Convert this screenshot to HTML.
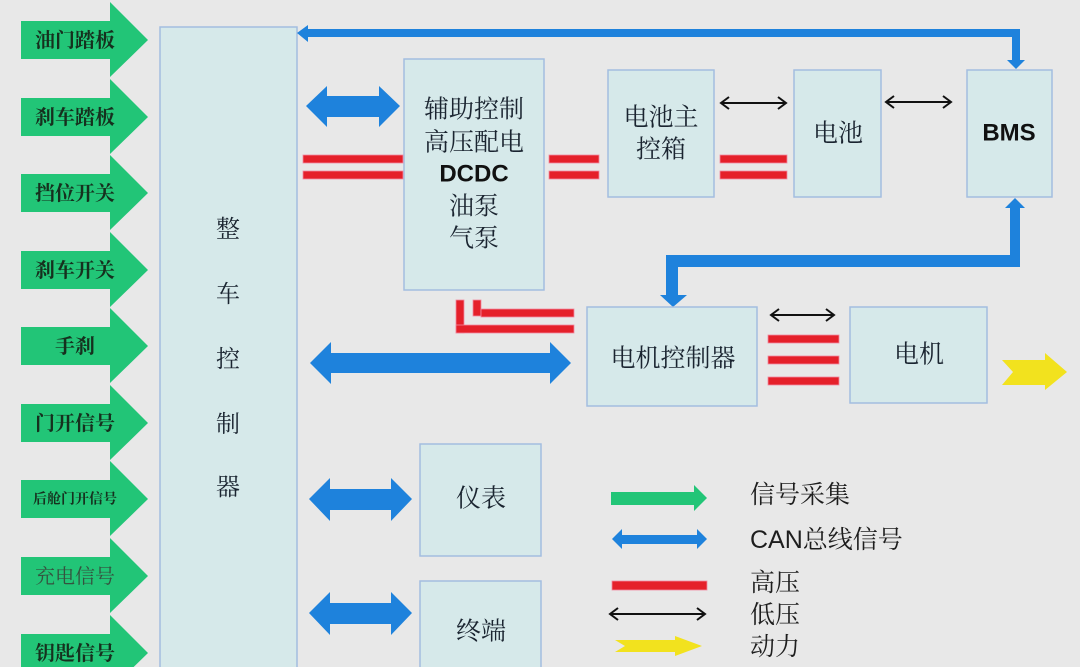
<!DOCTYPE html>
<html><head><meta charset="utf-8"><style>
html,body{margin:0;padding:0;background:#e8e8e8;}
svg{display:block;}
.bx{fill:#d6e9ea;stroke:#a3bde0;stroke-width:1.5;}
.s{font-family:"Liberation Serif","Noto Serif CJK SC",serif;fill:#1a2430;}
.g{font-family:"Liberation Serif","Noto Serif CJK SC",serif;font-weight:bold;fill:#16301e;}
.lg{font-family:"Liberation Sans","Noto Serif CJK SC",serif;fill:#1e1e1e;}
.bl{fill:#1e82dc;}
.rd{fill:#e5202a;stroke:#f08aa0;stroke-width:0.8;}
.gr{fill:#22c577;}
.ln{stroke:#111;stroke-width:2;fill:none;}
</style></head><body>
<svg width="1080" height="667" viewBox="0 0 1080 667" xmlns="http://www.w3.org/2000/svg">
<rect width="1080" height="667" fill="#e8e8e8"/>

<!-- green input arrows -->
<g class="gr">
<polygon points="21,21 110,21 110,2 148,40 110,77 110,59 21,59"/>
<polygon points="21,98 110,98 110,79 148,117 110,154 110,136 21,136"/>
<polygon points="21,174 110,174 110,155 148,193 110,230 110,212 21,212"/>
<polygon points="21,251 110,251 110,232 148,270 110,307 110,289 21,289"/>
<polygon points="21,327 110,327 110,308 148,346 110,383 110,365 21,365"/>
<polygon points="21,404 110,404 110,385 148,423 110,460 110,442 21,442"/>
<polygon points="21,480 110,480 110,461 148,499 110,536 110,518 21,518"/>
<polygon points="21,557 110,557 110,538 148,576 110,613 110,595 21,595"/>
<polygon points="21,634 110,634 110,615 148,653 110,690 110,672 21,672"/>
</g>
<g class="g" text-anchor="middle" dominant-baseline="central" font-size="20">
<text x="75" y="41">油门踏板</text>
<text x="75" y="118">刹车踏板</text>
<text x="75" y="194">挡位开关</text>
<text x="75" y="271">刹车开关</text>
<text x="75" y="347">手刹</text>
<text x="75" y="424">门开信号</text>
<text x="75" y="500" font-size="14">后舱门开信号</text>
<text x="75" y="577" font-weight="normal" fill="#35523f">充电信号</text>
<text x="75" y="654">钥匙信号</text>
</g>

<!-- main VCU box -->
<rect class="bx" x="160" y="27" width="137" height="660"/>
<g class="s" text-anchor="middle" dominant-baseline="central" font-size="24">
<text x="228" y="230">整</text>
<text x="228" y="295">车</text>
<text x="228" y="360">控</text>
<text x="228" y="425">制</text>
<text x="228" y="488">器</text>
</g>

<!-- top CAN line to BMS -->
<g class="bl">
<rect x="305" y="29" width="715" height="8"/>
<polygon points="297,33 308,25 308,42"/>
<rect x="1012" y="29" width="8" height="32"/>
<polygon points="1007,60 1025,60 1016,69"/>
</g>

<!-- BMS to motor controller path -->
<g class="bl">
<polygon points="1015,198 1005,208 1025,208"/>
<rect x="1010" y="207" width="10" height="60"/>
<rect x="666" y="255" width="354" height="12"/>
<rect x="666" y="255" width="12" height="41"/>
<polygon points="660,295 687,295 673,307"/>
</g>

<!-- CAN double arrows -->
<g class="bl">
<polygon points="306,106 327,86 327,96 379,96 379,86 400,106 379,127 379,117 327,117 327,127"/>
<polygon points="310,363 331,342 331,353 550,353 550,342 571,363 550,384 550,373 331,373 331,384"/>
<polygon points="309,499 330,478 330,489 391,489 391,478 412,499 391,521 391,510 330,510 330,521"/>
<polygon points="309,613 330,592 330,603 391,603 391,592 412,613 391,635 391,624 330,624 330,635"/>
</g>

<!-- boxes -->
<rect class="bx" x="404" y="59" width="140" height="231"/>
<rect class="bx" x="608" y="70" width="106" height="127"/>
<rect class="bx" x="794" y="70" width="87" height="127"/>
<rect class="bx" x="967" y="70" width="85" height="127"/>
<rect class="bx" x="587" y="307" width="170" height="99"/>
<rect class="bx" x="850" y="307" width="137" height="96"/>
<rect class="bx" x="420" y="444" width="121" height="112"/>
<rect class="bx" x="420" y="581" width="121" height="100"/>

<g class="s" text-anchor="middle" dominant-baseline="central" font-size="25">
<text x="474" y="110">辅助控制</text>
<text x="474" y="143">高压配电</text>
<text x="474" y="174" font-family="Liberation Sans, sans-serif" font-weight="bold" font-size="24" fill="#111">DCDC</text>
<text x="474" y="207">油泵</text>
<text x="474" y="239">气泵</text>
<text x="661" y="118">电池主</text>
<text x="661" y="150">控箱</text>
<text x="838" y="134">电池</text>
<text x="1009" y="133" font-family="Liberation Sans, sans-serif" font-weight="bold" font-size="24" fill="#111">BMS</text>
<text x="673" y="359">电机控制器</text>
<text x="919" y="355">电机</text>
<text x="481" y="499">仪表</text>
<text x="481" y="632">终端</text>
</g>

<!-- high voltage bars -->
<g class="rd">
<rect x="303" y="155" width="100" height="8"/>
<rect x="303" y="171" width="100" height="8"/>
<rect x="549" y="155" width="50" height="8"/>
<rect x="549" y="171" width="50" height="8"/>
<rect x="720" y="155" width="67" height="8"/>
<rect x="720" y="171" width="67" height="8"/>
<rect x="456" y="300" width="8" height="33"/>
<rect x="456" y="325" width="118" height="8"/>
<rect x="473" y="300" width="8" height="16"/>
<rect x="481" y="309" width="93" height="8"/>
<rect x="768" y="335" width="71" height="8"/>
<rect x="768" y="356" width="71" height="8"/>
<rect x="768" y="377" width="71" height="8"/>
</g>

<!-- low voltage arrows -->
<g class="ln">
<line x1="721" y1="103" x2="786" y2="103"/>
<polyline points="729,97 721,103 729,109"/>
<polyline points="778,97 786,103 778,109"/>
<line x1="886" y1="102" x2="951" y2="102"/>
<polyline points="894,96 886,102 894,108"/>
<polyline points="943,96 951,102 943,108"/>
<line x1="771" y1="315" x2="834" y2="315"/>
<polyline points="779,309 771,315 779,321"/>
<polyline points="826,309 834,315 826,321"/>
<line x1="610" y1="614" x2="705" y2="614"/>
<polyline points="618,608 610,614 618,620"/>
<polyline points="697,608 705,614 697,620"/>
</g>

<!-- power arrow -->
<polygon points="1002,360 1045,360 1045,353 1067,372 1045,390 1045,385 1002,385 1013,372" fill="#f2e21e"/>

<!-- legend -->
<polygon class="gr" points="611,492 694,492 694,485 707,498 694,511 694,505 611,505"/>
<polygon class="bl" points="612,539 622,529 622,535 697,535 697,529 707,539 697,549 697,544 622,544 622,549"/>
<rect class="rd" x="612" y="581" width="95" height="9"/>
<polygon points="615,640 675,640 675,636 702,646 675,656 675,652 615,652 625,646" fill="#f2e21e"/>
<g class="lg" dominant-baseline="central" font-size="25">
<text x="750" y="495">信号采集</text>
<text x="750" y="540">CAN总线信号</text>
<text x="750" y="583">高压</text>
<text x="750" y="615">低压</text>
<text x="750" y="647">动力</text>
</g>
</svg>
</body></html>
